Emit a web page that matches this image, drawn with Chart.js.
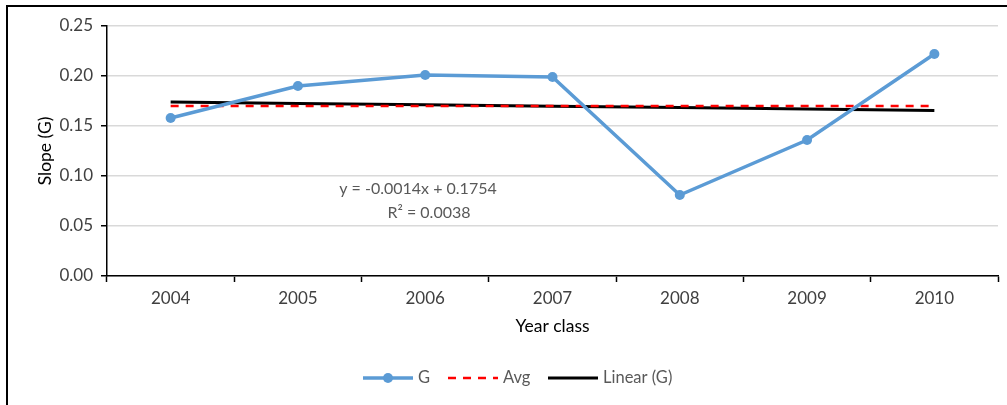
<!DOCTYPE html>
<html>
<head>
<meta charset="utf-8">
<script src="https://cdn.jsdelivr.net/npm/chart.js@4.4.1/dist/chart.umd.min.js"></script>
<style>
  html, body { margin: 0; padding: 0; background: #fff; overflow: hidden; }
  #wrap { position: relative; width: 1007px; height: 405px; }
  #frame { position: absolute; left: 6px; top: 5px; width: 1100px; height: 500px; border: 2px solid #000; box-sizing: border-box; }
  #chart { position: absolute; left: 0; top: 0; }
</style>
</head>
<body>
<div id="wrap">
  <div id="frame"></div>
  <canvas id="chart" width="1007" height="405"></canvas>
</div>
<script>
// data
const years = ['2004', '2005', '2006', '2007', '2008', '2009', '2010'];
const gValues = [0.158, 0.190, 0.201, 0.199, 0.081, 0.136, 0.222];
const avgValues = [0.170, 0.170, 0.170, 0.170, 0.170, 0.170, 0.170];
const linearValues = [0.1740, 0.1726, 0.1712, 0.1698, 0.1684, 0.1670, 0.1656];
const yTicks = [0, 0.05, 0.10, 0.15, 0.20, 0.25];
const trendText = ['y = -0.0014x + 0.1754', 'R² = 0.0038'];

const FONT = 'Lato, "Open Sans", sans-serif';

// trendline equation, as in Excel
const trendLabel = {
  id: 'trendLabel',
  afterDatasetsDraw(chart) {
    const { ctx } = chart;
    ctx.save();
    ctx.font = '16px ' + FONT;
    ctx.fillStyle = '#595959';
    ctx.textAlign = 'center';
    ctx.textBaseline = 'middle';
    ctx.fillText(trendText[0], 418, 189);
    ctx.fillText(trendText[1], 429, 213);
    ctx.restore();
  }
};

// legend at the bottom (line + marker samples)
const bottomLegend = {
  id: 'bottomLegend',
  afterDraw(chart) {
    const { ctx } = chart;
    const y = 378;
    const items = [
      { x: 363, ds: chart.data.datasets[0], marker: true },
      { x: 448, ds: chart.data.datasets[1] },
      { x: 548, ds: chart.data.datasets[2] },
    ];
    ctx.save();
    ctx.font = '16.5px ' + FONT;
    ctx.textBaseline = 'middle';
    items.forEach(it => {
      ctx.beginPath();
      ctx.strokeStyle = it.ds.borderColor;
      ctx.lineWidth = it.ds.borderWidth;
      ctx.setLineDash(it.ds.borderDash || []);
      ctx.moveTo(it.x, y);
      ctx.lineTo(it.x + 50, y);
      ctx.stroke();
      ctx.setLineDash([]);
      if (it.marker) {
        ctx.beginPath();
        ctx.fillStyle = it.ds.borderColor;
        ctx.arc(it.x + 25, y, 5, 0, Math.PI * 2);
        ctx.fill();
      }
      ctx.fillStyle = '#595959';
      ctx.fillText(it.ds.label, it.x + 55, y);
    });
    ctx.restore();
  }
};

new Chart(document.getElementById('chart'), {
  type: 'line',
  data: {
    labels: years,
    datasets: [
      {
        label: 'G',
        data: gValues,
        borderColor: '#5B9BD5',
        backgroundColor: '#5B9BD5',
        borderWidth: 3.5,
        pointRadius: 5,
        pointBorderWidth: 0,
        pointBackgroundColor: '#5B9BD5',
        tension: 0,
        order: 0,
      },
      {
        label: 'Avg',
        data: avgValues,
        borderColor: '#FF0000',
        borderWidth: 2.5,
        borderDash: [8, 7],
        pointRadius: 0,
        order: 1,
      },
      {
        label: 'Linear (G)',
        data: linearValues,
        borderColor: '#000000',
        borderWidth: 3,
        pointRadius: 0,
        order: 2,
      },
    ],
  },
  options: {
    responsive: false,
    animation: false,
    layout: { padding: { left: 0, top: 26, right: 9, bottom: 0 } },
    plugins: {
      legend: { display: false },
      tooltip: { enabled: false },
    },
    scales: {
      x: {
        offset: true,
        grid: { offset: true, drawOnChartArea: false, drawTicks: true, tickLength: 6, tickColor: '#000', tickWidth: 1.5 },
        border: { color: '#000', width: 1.5 },
        ticks: { font: { family: FONT, size: 17 }, color: '#404040', padding: 6, maxRotation: 0 },
        title: { display: true, text: 'Year class', font: { family: FONT, size: 17.5 }, color: '#000', padding: { top: 0, bottom: 68.5 } },
        afterFit(scale) { scale.height = 129; },
      },
      y: {
        min: 0,
        max: 0.25,
        afterBuildTicks(scale) { scale.ticks = yTicks.map(v => ({ value: v })); },
        grid: { color: '#d9d9d9', lineWidth: 1.5, tickLength: 6, tickColor: '#000', tickWidth: 1.5 },
        border: { color: '#000', width: 1.5 },
        ticks: {
          font: { family: FONT, size: 17 },
          color: '#404040',
          padding: 8,
          callback: v => Number(v).toFixed(2),
        },
        title: { display: true, text: 'Slope (G)', font: { family: FONT, size: 17.5 }, color: '#000', padding: { top: 34.5, bottom: 0 } },
        afterFit(scale) { scale.width = 107; },
      },
    },
  },
  plugins: [trendLabel, bottomLegend],
});
</script>
</body>
</html>
